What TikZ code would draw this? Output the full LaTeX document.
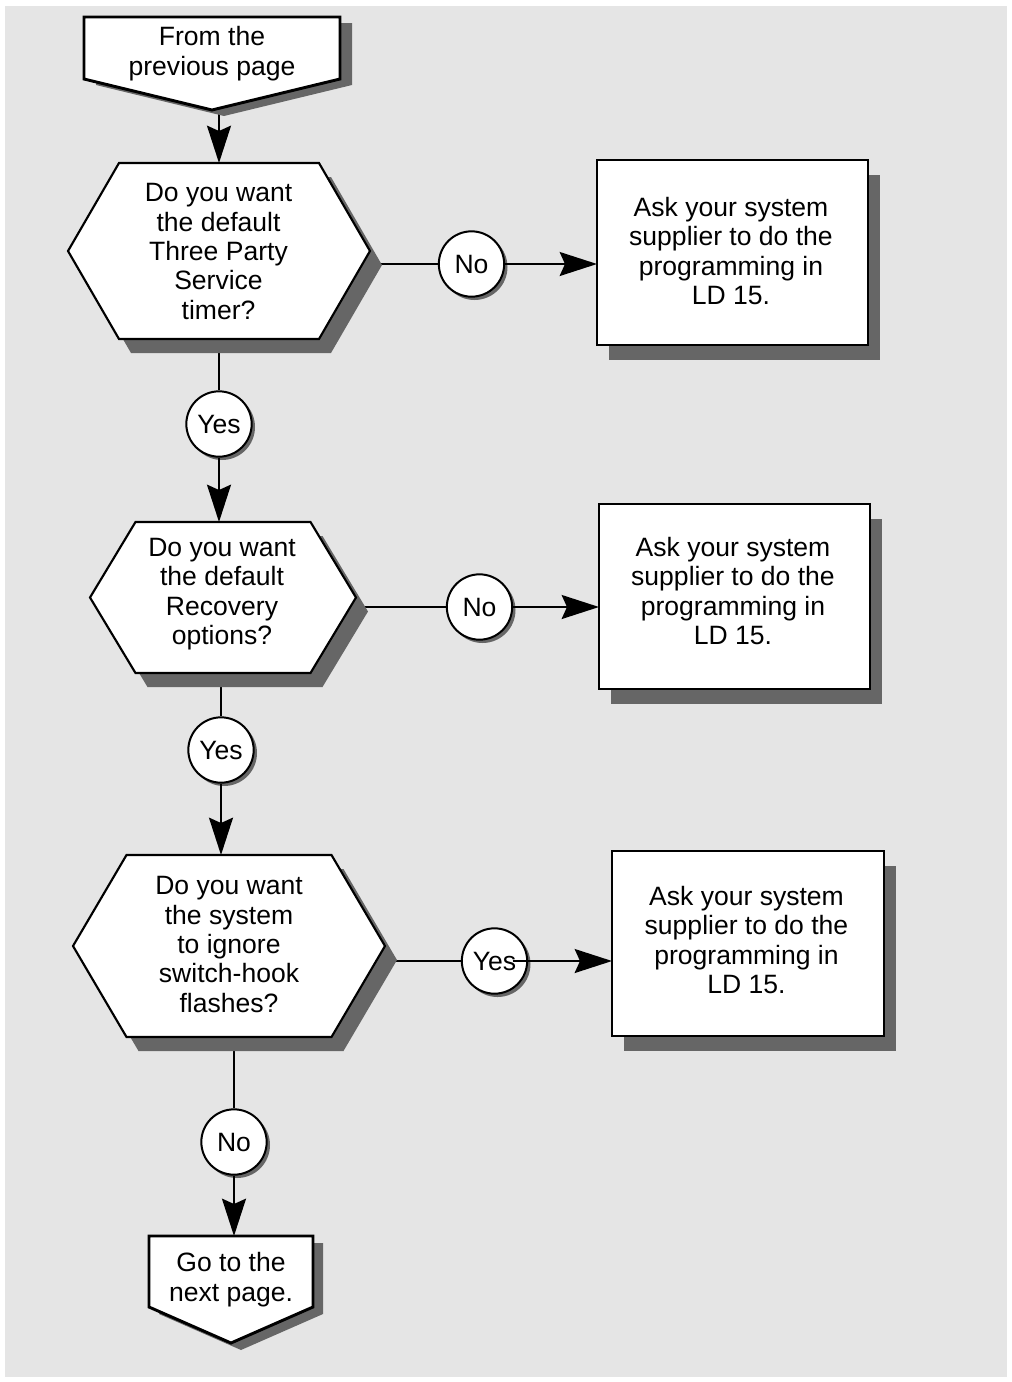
\documentclass[tikz,border=0pt]{standalone}
\usepackage{fontspec}
\setmainfont{Liberation Sans}
\usetikzlibrary{arrows.meta,calc}
\pgfdeclarelayer{bg}
\pgfdeclarelayer{back}
\pgfdeclarelayer{shapes}
\pgfsetlayers{bg,back,shapes,main}
\definecolor{bgc}{HTML}{E5E5E5}
\definecolor{shc}{HTML}{666666}
% hexagon: node, inset, dx, dy, style
\newcommand\hexshape[5]{\path[#5] ($(#1.west)+(#3,#4)$) -- ($(#1.north west)+(#2+#3,#4)$) -- ($(#1.north east)+(-#2+#3,#4)$) -- ($(#1.east)+(#3,#4)$) -- ($(#1.south east)+(-#2+#3,#4)$) -- ($(#1.south west)+(#2+#3,#4)$) -- cycle;}
% pentagon: node, side offset, dx, dy, style
\newcommand\pentshape[5]{\path[#5] ($(#1.north west)+(#3,#4)$) -- ($(#1.north east)+(#3,#4)$) -- ($(#1.south east)+(#3,-#2+#4)$) -- ($(#1.south)+(#3,#4)$) -- ($(#1.south west)+(#3,-#2+#4)$) -- cycle;}
% box: node, dx, dy, style
\newcommand\boxshape[4]{\path[#4] ($(#1.north west)+(#2,#3)$) rectangle ($(#1.south east)+(#2,#3)$);}
\begin{document}
\begin{tikzpicture}[x=0.75pt,y=-0.75pt,
  geo/.style 2 args={inner sep=0,outer sep=0,draw=none,minimum width=#1*0.75pt,minimum height=#2*0.75pt},
  txt/.style={font=\fontsize{19.9}{22.1}\selectfont,align=center,inner sep=0},
  circ/.style={circle,draw=black,line width=1.5pt,fill=white,minimum size=49pt,inner sep=0,font=\fontsize{19.9}{22.1}\selectfont},
  shadowfill/.style={fill=shc},
  hexline/.style={draw=black,fill=white,line width=1.6pt,line join=miter},
  boxline/.style={draw=black,fill=white,line width=2.2pt,line join=miter},
  ln/.style={draw=black,line width=1.5pt},
  arr/.style={ln,-{Stealth[length=28pt,width=18pt,inset=4pt]}}]
\useasboundingbox (0,0) rectangle (1012,1382);
\begin{pgfonlayer}{bg}
\fill[white] (0,0) rectangle (1012,1382);
\fill[bgc] (5,6) rectangle (1007,1377);
\end{pgfonlayer}

% geometry nodes
\node[geo={256}{93}] (top) at (212,63.5) {};
\node[geo={302}{176}] (h1) at (219,251) {};
\node[geo={266}{151}] (h2) at (223,597.5) {};
\node[geo={312}{182}] (h3) at (229,946) {};
\node[geo={271}{185}] (b1) at (732.5,252.5) {};
\node[geo={271}{185}] (b2) at (734.5,596.5) {};
\node[geo={272}{185}] (b3) at (748,943.5) {};
\node[geo={164}{107}] (bot) at (231,1289.5) {};

% shapes
\begin{pgfonlayer}{shapes}
\pentshape{top}{31}{12}{6}{shadowfill}
\pentshape{top}{31}{0}{0}{boxline}
\hexshape{h1}{51}{12}{14}{shadowfill}
\hexshape{h1}{51}{0}{0}{hexline}
\hexshape{h2}{45.5}{12}{14}{shadowfill}
\hexshape{h2}{45.5}{0}{0}{hexline}
\hexshape{h3}{53.5}{12}{14}{shadowfill}
\hexshape{h3}{53.5}{0}{0}{hexline}
\boxshape{b1}{12}{15}{shadowfill}
\boxshape{b1}{0}{0}{boxline}
\boxshape{b2}{12}{15}{shadowfill}
\boxshape{b2}{0}{0}{boxline}
\boxshape{b3}{12}{15}{shadowfill}
\boxshape{b3}{0}{0}{boxline}
\pentshape{bot}{36}{10}{7}{shadowfill}
\pentshape{bot}{36}{0}{0}{boxline}
\end{pgfonlayer}

% texts
\node[txt] (toptxt) at (212,53.5) {From the\\previous page};
\node[txt] (h1txt) at (218.5,251.5) {Do you want\\the default\\Three Party\\Service\\timer?};
\node[txt] (h2txt) at (222,594) {Do you want\\the default\\Recovery\\options?};
\node[txt] (h3txt) at (229,944.5) {Do you want\\the system\\to ignore\\switch-hook\\flashes?};
\node[txt] (b1txt) at (731,251) {Ask your system\\supplier to do the\\programming in\\LD 15.};
\node[txt] (b2txt) at (733,591) {Ask your system\\supplier to do the\\programming in\\LD 15.};
\node[txt] (b3txt) at (746.5,940) {Ask your system\\supplier to do the\\programming in\\LD 15.};
\node[txt] (bottxt) at (231,1279.5) {Go to the\\next page.};

% decision circles
\node[circ] (n1) at (471.5,264) {No};
\node[circ] (y1) at (219,424) {Yes};
\node[circ] (n2) at (479.5,607) {No};
\node[circ] (y2) at (221,750) {Yes};
\node[circ] (y3) at (494.5,961) {Yes};
\node[circ] (n3) at (234,1142) {No};

% connectors
\begin{pgfonlayer}{back}
\foreach \c in {n1,y1,n2,y2,y3,n3}{\fill[shc] ($(\c)+(3,3)$) circle[radius=33];}
\draw[arr] (h1.north |- top.south) -- (h1.north);
\draw[ln] (h1.center |- n1) -- (n1);
\draw[arr] (n1) -- (n1 -| b1.west);
\draw[ln] (y1 |- h1.center) -- (y1);
\draw[arr] (y1) -- (y1 |- h2.north);
\draw[ln] (h2.center |- n2) -- (n2);
\draw[arr] (n2) -- (n2 -| b2.west);
\draw[ln] (y2 |- h2.center) -- (y2);
\draw[arr] (y2) -- (y2 |- h3.north);
\draw[ln] (h3.center |- y3) -- (y3);
\draw[ln] (n3 |- h3.center) -- (n3);
\draw[arr] (n3) -- (n3 |- bot.north);
\end{pgfonlayer}
\draw[arr] ($(y3.center)+(18,0)$) -- (y3 -| b3.west);
\end{tikzpicture}
\end{document}
